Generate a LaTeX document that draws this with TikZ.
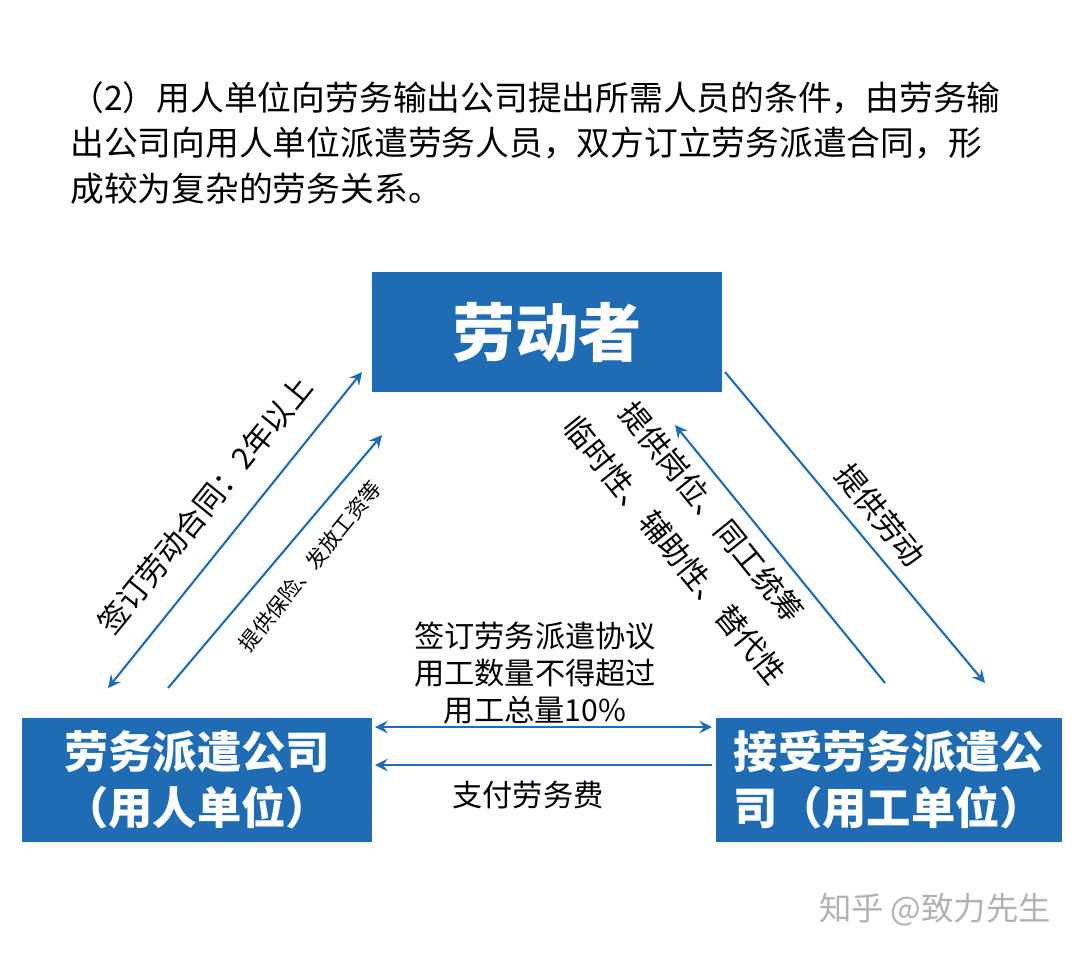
\documentclass[tikz,border=0pt]{standalone}
\usepackage{fontspec}
\setmainfont{Noto Sans CJK SC}
\usetikzlibrary{positioning, calc}
\definecolor{xblue}{HTML}{1F6CB4}
\tikzset{
	arrow/.style={semithick, xblue, ->, >=stealth},
	darrow/.style={semithick, xblue, <->, >=stealth},
	party/.style={fill=xblue, text=white, align=center, inner sep=0pt},
	lbl/.style={inner sep=1pt},
}
\begin{document}
\begin{tikzpicture}[x=0.01cm, y=-0.01cm]
	\useasboundingbox (0,0) rectangle (1080,955);

	\node[anchor=west, align=left, font=\fontsize{9.6}{12.9}\selectfont] (head) at (58,143)
		{（2）用人单位向劳务输出公司提出所需人员的条件，由劳务输\\出公司向用人单位派遣劳务人员，双方订立劳务派遣合同，形\\成较为复杂的劳务关系。};

	\node[party, minimum width=3.49cm, minimum height=1.2cm, font=\bfseries\fontsize{18}{20}\selectfont] (worker) at (547,332) {劳动者};
	\node[party, minimum width=3.5cm, minimum height=1.24cm, font=\bfseries\fontsize{12.6}{16}\selectfont] (agency) at (197,780) {劳务派遣公司\\（用人单位）};
	\node[party, minimum width=3.46cm, minimum height=1.24cm, font=\bfseries\fontsize{12.6}{16}\selectfont] (client) at (889,780) {接受劳务派遣公\\司（用工单位）};

	\coordinate (a1) at (362,372); \coordinate (a2) at (108,688);
	\coordinate (b1) at (168,688); \coordinate (b2) at (382,435);
	\coordinate (c1) at (725,372); \coordinate (c2) at (985,683);
	\coordinate (d1) at (885,683); \coordinate (d2) at (675,425);
	\coordinate (e1) at (375,727); \coordinate (e2) at (712,727);
	\coordinate (f1) at (712,765); \coordinate (f2) at (375,765);

	\draw[darrow] (a1) -- (a2);
	\draw[arrow] (b1) -- (b2);
	\draw[arrow] (c1) -- (c2);
	\draw[arrow] (d1) -- (d2);
	\draw[darrow] (e1) -- (e2);
	\draw[arrow] (f1) -- (f2);

	\node[lbl, rotate=51, font=\fontsize{8.6}{10}\selectfont] (l1) at (205,505) {签订劳动合同：2年以上};
	\node[lbl, rotate=51, font=\fontsize{6}{7}\selectfont] (l2) at (310,566) {提供保险、发放工资等};
	\node[lbl, rotate=-51, font=\fontsize{8.6}{10}\selectfont] (l3) at (880,515) {提供劳动};
	\node[lbl, rotate=-51, font=\fontsize{8.6}{10}\selectfont] (l4) at (712,512) {提供岗位、同工统筹};
	\node[lbl, rotate=-51, font=\fontsize{8.6}{10}\selectfont] (l5) at (675,550) {临时性、辅助性、替代性};
	\node[lbl, align=center, font=\fontsize{8.6}{10.5}\selectfont] (l6) at (535,673) {签订劳务派遣协议\\用工数量不得超过\\用工总量10\%};
	\node[lbl, font=\fontsize{8.6}{10}\selectfont] (l7) at (528,795) {支付劳务费};

	\node[text=gray!60, font=\fontsize{9.2}{10}\selectfont] (mark) at (935,910) {知乎 @致力先生};
\end{tikzpicture}
\end{document}
